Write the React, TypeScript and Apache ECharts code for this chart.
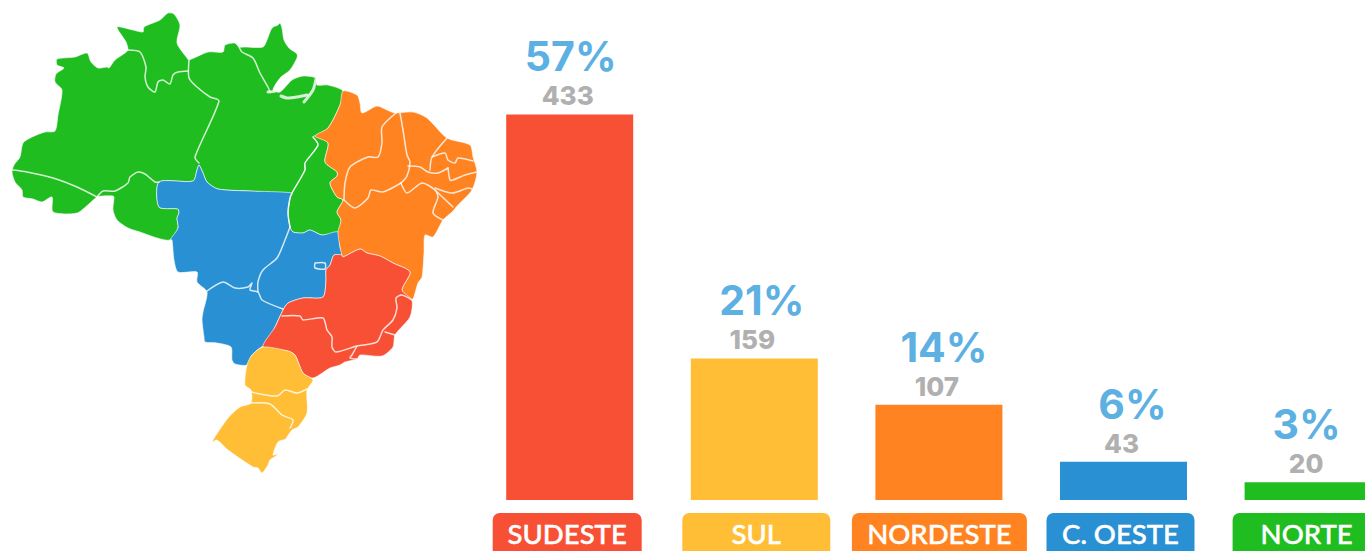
import React, { useEffect, useRef } from "react";
import * as echarts from "echarts";

const categories = ["SUDESTE", "SUL", "NORDESTE", "C. OESTE", "NORTE"];
const counts = [433, 159, 107, 43, 20];
const percents = ["57%", "21%", "14%", "6%", "3%"];
const barColors = ["#F85035", "#FFBE35", "#FF8320", "#2890D3", "#20BD20"];
const pillWidths = [149, 148, 175, 148, 148];
const pillShifts = [-2.5, 2, 0.5, -3, -1.5];
const percentShifts = [1, 7.5, 5, 9, -1.5];

type P = [number, number];
const greenMain: P[] = [[12,172],[14,165],[20,157],[23,143],[32,137],[45,132],[55,131],[58,115],[62,90],[55,82],[56,74],[64,68],[57,65],[57,59],[75,57],[87,53],[91,62],[98,68],[107,67],[109,68],[115,60],[125,53],[128,50],[126,42],[117,27],[133,30],[143,32],[144,27],[160,20],[168,13],[174,14],[180,25],[177,43],[187,58],[189,60],[208,52],[223,52],[225,45],[235,43],[239,47],[245,47],[263,47],[267,40],[272,28],[278,25],[280,23],[282,28],[284,40],[289,48],[297,54],[297,58],[290,70],[280,78],[273,90],[280,92],[292,80],[303,76],[316,78],[317,85],[328,85],[343,91],[340,105],[328,128],[315,136],[313,137],[318,145],[305,163],[305,170],[292,193],[250,191],[218,189],[207,182],[203,173],[199,165],[197,170],[193,181],[159,182],[159,207],[178,209],[179,213],[177,218],[178,228],[170,240],[157,238],[140,232],[128,228],[117,220],[113,210],[114,197],[113,196],[103,196],[97,197],[90,203],[77,213],[53,212],[52,197],[42,202],[33,199],[23,197],[22,190],[15,182]];
const tocantins: P[] = [[313,137],[315,136],[328,143],[325,162],[337,172],[337,176],[330,183],[337,197],[343,200],[337,212],[341,220],[338,232],[322,235],[310,230],[303,233],[293,232],[290,227],[288,213],[290,198],[292,193],[305,170],[305,163],[318,145]];
const blueMain: P[] = [[159,182],[193,181],[197,170],[199,165],[203,173],[207,182],[218,189],[250,191],[292,193],[290,198],[288,213],[290,227],[293,232],[303,233],[310,230],[322,235],[338,232],[340,247],[342,255],[334,255],[330,265],[326,270],[326,280],[323,297],[303,298],[288,303],[283,310],[275,327],[267,343],[260,348],[252,355],[247,365],[235,364],[232,360],[231,347],[217,343],[205,342],[204,337],[202,320],[203,312],[207,292],[197,282],[197,272],[178,272],[174,260],[172,240],[170,240],[178,228],[177,218],[179,213],[178,209],[159,207]];
const redMain: P[] = [[283,310],[288,303],[303,298],[323,297],[326,280],[326,270],[330,265],[334,255],[342,255],[343,257],[360,249],[367,253],[380,256],[393,263],[410,272],[402,290],[412,300],[410,317],[395,335],[393,347],[382,356],[360,355],[357,359],[345,362],[340,365],[330,368],[313,378],[303,373],[295,355],[288,351],[263,347],[275,327]];
const yellowMain: P[] = [[263,347],[288,351],[295,355],[303,373],[313,380],[307,390],[307,413],[298,427],[292,430],[280,448],[277,455],[270,460],[268,465],[262,473],[258,468],[253,467],[228,450],[217,440],[212,442],[228,418],[240,407],[251,403],[251,390],[245,385],[247,365],[252,355]];
const orangeMain: P[] = [[343,91],[357,95],[360,103],[362,113],[377,106],[387,110],[395,113],[413,112],[427,118],[447,138],[470,145],[473,157],[477,172],[472,190],[458,205],[452,212],[443,220],[433,237],[425,235],[424,253],[422,277],[418,283],[412,300],[402,290],[410,272],[393,263],[380,256],[367,253],[360,249],[343,257],[342,255],[340,247],[338,232],[341,220],[337,212],[343,200],[337,197],[330,183],[337,176],[337,172],[325,162],[328,143],[315,136],[328,128],[340,105]];
const lagoon: P[] = [[273,455],[278,442],[285,440],[278,453]];

const stateBorders: P[][] = [
  [[13,170],[27,172],[53,178],[77,187],[97,197]],
  [[97,197],[103,191],[115,191],[128,183],[130,177],[138,172],[145,174],[155,182],[159,182]],
  [[189,60],[189,78],[197,87],[210,97],[219,101],[195,157],[199,163]],
  [[128,50],[140,52],[146,67],[145,77],[148,87],[155,92],[158,82],[163,80],[170,84],[173,75],[178,72],[188,71]],
  [[239,47],[242,52],[253,58],[260,73],[268,87],[270,92]],
  [[313,137],[318,145],[305,163],[305,170],[292,193],[290,198],[288,213],[290,227]],
  [[290,227],[285,240],[277,258],[263,270],[258,282],[258,292]],
  [[207,291],[223,282],[235,288],[248,287],[252,283],[250,290],[258,292],[262,300],[283,309]],
  [[315,263],[325,263],[325,269],[315,268],[315,263]],
  [[282,316],[300,316],[303,320],[323,318],[327,330],[332,337],[332,347],[336,352],[357,346],[377,342],[383,330],[393,320],[397,308],[396,298],[402,295],[412,300]],
  [[385,332],[395,335]],
  [[357,346],[352,355],[350,358],[357,359]],
  [[251,392],[277,396],[285,390],[297,393],[307,389]],
  [[251,403],[270,404],[282,415],[293,420],[290,428]],
  [[396,113],[382,127],[382,143],[378,157],[368,157],[350,167],[345,183],[344,200]],
  [[400,113],[403,130],[407,155],[410,162],[407,176],[401,183]],
  [[344,200],[355,208],[368,198],[371,190],[383,192],[401,183]],
  [[401,183],[407,193],[422,183],[435,190],[438,197],[433,213],[443,220]],
  [[435,190],[453,207]],
  [[447,138],[432,157],[430,170]],
  [[408,166],[420,167],[428,172],[438,173],[448,168]],
  [[432,157],[445,153],[448,160],[455,163],[458,158],[473,161]],
  [[448,168],[450,180],[453,180],[465,175],[477,172]],
  [[435,188],[452,193],[468,188],[472,189]],
];
const riverChannels: P[][] = [
  [[268,92],[275,91],[283,83],[293,73],[301,70]],
  [[316,79],[313,90],[304,102]],
  [[281,96],[287,98],[297,97],[307,95]],
];

function regionFill(points: P[], fill: string) {
  return {
    type: "polygon", silent: true,
    shape: { points, smooth: 0.25 },
    style: { fill, stroke: "#ffffff", lineWidth: 0.6 },
  };
}
function borderLine(points: P[], lineWidth: number) {
  return {
    type: "polyline", silent: true,
    shape: { points, smooth: 0.25 },
    style: { fill: "none", stroke: "rgba(255,255,255,0.8)", lineWidth, lineJoin: "round", lineCap: "round" },
  };
}

export default function App() {
  const ref = useRef<HTMLDivElement>(null);
  useEffect(() => {
    const chart = echarts.init(ref.current!, undefined, { renderer: "svg" });
    const rich: any = {};
    const labelRich: any = {
      n: { fontFamily: "Inter", fontWeight: 800, fontSize: 26, color: "#B0B0B0", lineHeight: 31, align: "center" },
    };
    categories.forEach((_, i) => {
      rich["s" + i] = {
        color: "#ffffff", fontFamily: "Lato", fontSize: 27.5, fontWeight: 500,
        textBorderColor: "#ffffff", textBorderWidth: 0.5,
        backgroundColor: barColors[i], borderRadius: 7,
        width: pillWidths[i], height: 41, lineHeight: 41, padding: [0, 0, 4, 0],
        align: "center", verticalAlign: "middle",
      };
      rich["g" + i] = { width: Math.abs(pillShifts[i]) * 2, height: 45, lineHeight: 45, fontSize: 1 };
      labelRich["p" + i] = {
        fontFamily: "Inter", fontWeight: 700, fontSize: 41, color: "#5CB0E2", lineHeight: 48, align: "center",
        padding: [0, 0, 0, (percentShifts[i] + 2) * 2],
      };
    });
    chart.setOption({
      animation: false,
      backgroundColor: "#ffffff",
      grid: { left: 477.4, top: 114.4, width: 923, height: 385.6, outerBoundsMode: "none", containLabel: false },
      xAxis: {
        type: "category",
        data: categories,
        axisLine: { show: false },
        axisTick: { show: false },
        axisLabel: {
          show: true, interval: 0, margin: 13, hideOverlap: false,
          formatter: (value: string, index: number) => {
            const gap = `{g${index}| }`;
            const pill = `{s${index}|${value}}`;
            return pillShifts[index] < 0 ? pill + gap : gap + pill;
          },
          rich,
        },
      },
      yAxis: { type: "value", min: 0, max: 433, show: false, splitLine: { show: false } },
      series: [{
        type: "bar",
        barWidth: 127,
        data: counts.map((value, i) => ({ value, itemStyle: { color: barColors[i] } })),
        label: {
          show: true, position: "top", distance: 3, offset: [-2, 0],
          formatter: (p: any) => `{p${p.dataIndex}|${percents[p.dataIndex]}}\n{n|${p.value}}`,
          rich: labelRich,
        },
      }],
      graphic: { elements: [
        regionFill(greenMain, "#20BD20"),
        regionFill(tocantins, "#20BD20"),
        regionFill(blueMain, "#2890D3"),
        regionFill(orangeMain, "#FF8320"),
        regionFill(redMain, "#F85035"),
        regionFill(yellowMain, "#FFBE35"),
        regionFill(lagoon, "#ffffff"),
        ...stateBorders.map((b) => borderLine(b, 1.5)),
        ...riverChannels.map((b) => borderLine(b, 3)),
      ] },
    });
    return () => chart.dispose();
  }, []);
  return <div ref={ref} style={{ position: "fixed", left: 0, top: 0, width: 1365, height: 551, overflow: "hidden" }} />;
}
